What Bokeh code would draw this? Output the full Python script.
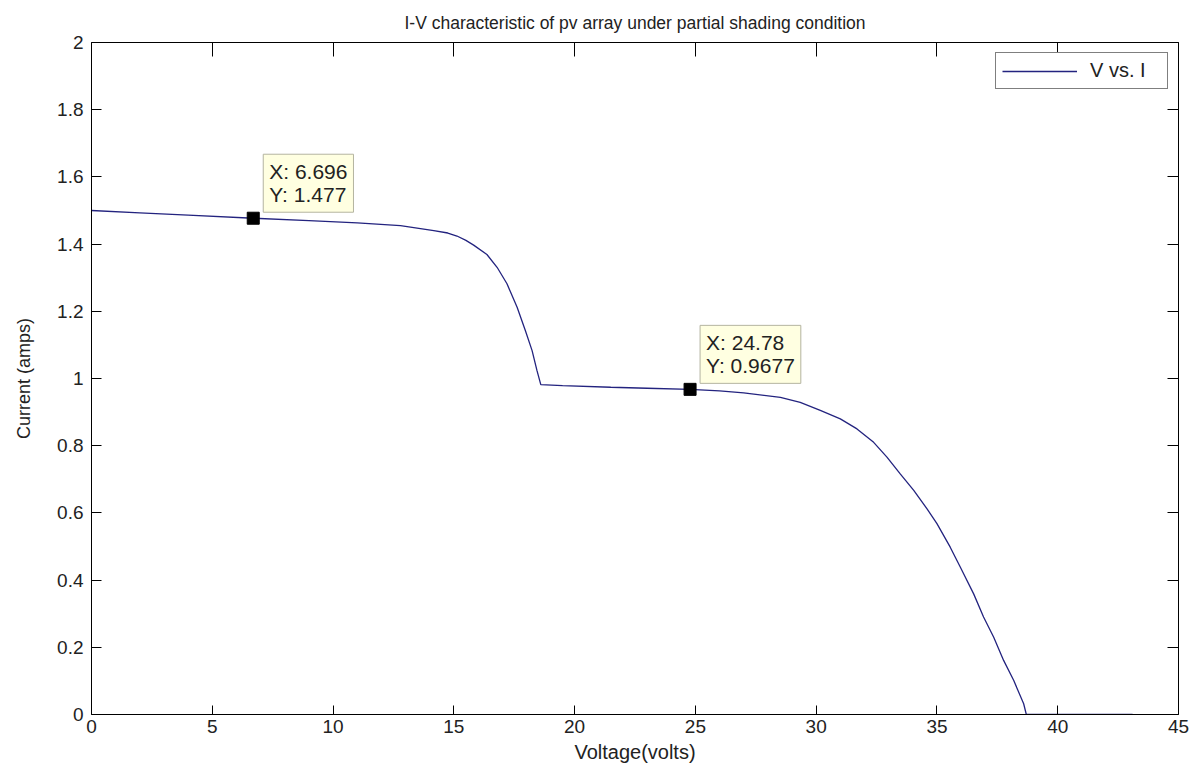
from bokeh.plotting import figure
from bokeh.models import (LinearAxis, FixedTicker, CustomJSTickFormatter, Label,
                          Range1d, Legend, LegendItem, ColumnDataSource)
from bokeh.embed import file_html
from bokeh.resources import INLINE

# ---- data ----
voltage = [0, 2, 4, 6.696, 9, 11, 12.79, 14.17, 14.75, 15.13, 15.5, 15.82, 16.37, 16.79,
           17.2, 17.62, 17.96, 18.24, 18.44, 18.6, 19.5, 21.5, 23.0, 24.78,
           26.0, 27.0, 28.52, 29.34, 30.17, 31.0, 31.69, 32.38, 32.93, 33.48,
           34.04, 34.59, 35.0, 35.55, 35.97, 36.52, 36.93, 37.35, 37.76, 38.18,
           38.59, 38.70, 40.0, 43.1]
current = [1.500, 1.493, 1.486, 1.477, 1.470, 1.463, 1.455, 1.440, 1.433, 1.424, 1.411,
           1.397, 1.369, 1.331, 1.282, 1.212, 1.143, 1.083, 1.024, 0.982, 0.979, 0.974,
           0.971, 0.9677, 0.963, 0.957, 0.944, 0.929, 0.905, 0.880, 0.850, 0.810,
           0.766, 0.716, 0.667, 0.612, 0.568, 0.498, 0.438, 0.359, 0.290, 0.230,
           0.161, 0.101, 0.032, 0.0, 0.0, 0.0]
tip_x = [6.696, 24.78]
tip_y = [1.477, 0.9677]
x_ticks = [0, 5, 10, 15, 20, 25, 30, 35, 40, 45]
y_ticks = [0, 0.2, 0.4, 0.6, 0.8, 1.0, 1.2, 1.4, 1.6, 1.8, 2.0]

FONT = "Liberation Sans"
TXT = "#222222"

p = figure(width=1195, height=768, x_range=Range1d(0, 45), y_range=Range1d(0, 2),
           output_backend="svg", toolbar_location=None,
           min_border_left=91, min_border_right=17, min_border_top=42,
           min_border_bottom=54, x_axis_location=None, y_axis_location=None)
p.grid.visible = False
p.outline_line_color = None
p.background_fill_color = "white"
p.border_fill_color = "white"

p.title.text = "I-V characteristic of pv array under partial shading condition"
p.title.align = "center"
p.title.text_font = FONT
p.title.text_font_style = "normal"
p.title.text_font_size = "17.5px"
p.title.text_color = TXT
p.title.standoff = 20

yfmt = CustomJSTickFormatter(code="return Number(tick.toFixed(2)).toString();")
xfmt = CustomJSTickFormatter(code="return tick.toString();")
blank_x = CustomJSTickFormatter(code="return '';")
blank_y = CustomJSTickFormatter(code="return '';")


def make_axis(ticks, fmt, tick_len, label=None, show=True):
    ax = LinearAxis(ticker=FixedTicker(ticks=ticks), formatter=fmt)
    ax.major_tick_in = tick_len
    ax.major_tick_out = 0
    ax.minor_tick_line_color = None
    ax.axis_line_color = "black"
    ax.major_tick_line_color = "black"
    ax.axis_line_width = 1
    if show:
        ax.major_label_text_font = FONT
        ax.major_label_text_font_size = "19px"
        ax.major_label_text_color = TXT
    else:
        ax.major_label_text_font_size = "1px"
        ax.major_label_standoff = 0
    if label:
        ax.axis_label = label
        ax.axis_label_text_font = FONT
        ax.axis_label_text_font_style = "normal"
        ax.axis_label_text_color = TXT
    return ax


bottom = make_axis(x_ticks, xfmt, 9, "Voltage(volts)")
bottom.major_label_standoff = 5
bottom.axis_label_standoff = 5
bottom.axis_label_text_font_size = "20px"
p.add_layout(bottom, "below")

left = make_axis(y_ticks, yfmt, 10, "Current (amps)")
left.major_label_standoff = 8
left.axis_label_standoff = 20
left.axis_label_text_font_size = "18px"
p.add_layout(left, "left")

top = make_axis(x_ticks, blank_x, 14, show=False)
p.add_layout(top, "above")
right = make_axis(y_ticks, blank_y, 11, show=False)
p.add_layout(right, "right")

src = ColumnDataSource(dict(v=voltage, i=current))
line = p.line("v", "i", source=src, line_color="#23237f", line_width=1.3)

p.scatter(tip_x, tip_y, marker="square", size=12, color="black")
for xv, yv in zip(tip_x, tip_y):
    p.add_layout(Label(x=xv, y=yv, text=f"X: {xv}\nY: {yv}", x_offset=10, y_offset=6,
                       text_font=FONT, text_font_size="21px", text_color=TXT,
                       text_line_height=1.0,
                       background_fill_color="#ffffe1", border_line_color="#b4b4a0",
                       padding=6))

legend = Legend(items=[LegendItem(label="V vs. I", renderers=[line])],
                location="top_right", margin=10, padding=6, glyph_width=75,
                glyph_height=18, label_height=18, label_width=71, label_standoff=13,
                label_text_font=FONT, label_text_font_size="20px",
                label_text_color=TXT, border_line_color="black",
                border_line_width=1, background_fill_alpha=1.0)
p.add_layout(legend)

open("out.html", "w").write(file_html(p, INLINE))
